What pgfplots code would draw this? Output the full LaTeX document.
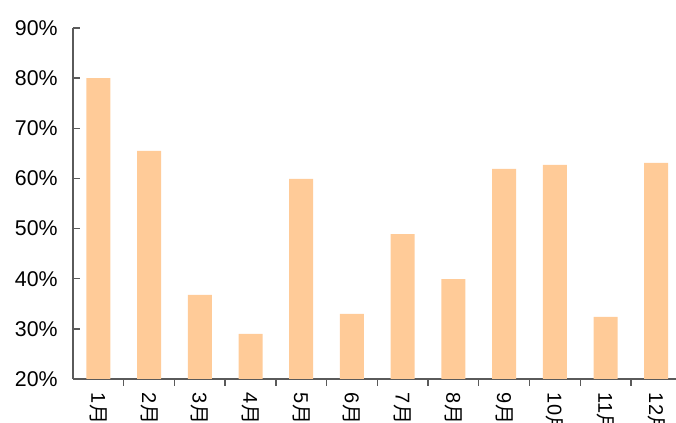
\documentclass[border=0pt]{standalone}
\usepackage{pgfplots}
\pgfplotsset{compat=1.18}
\usepackage{fontspec}
\setmainfont{Liberation Sans}
\newfontfamily\cjk{Noto Sans CJK SC}
\definecolor{barc}{HTML}{FFCB98}
\definecolor{axc}{HTML}{5A5A5A}
\begin{document}
\begin{tikzpicture}[x=0.75pt,y=0.75pt]
\begin{axis}[
  at={(0,0)}, anchor=south west,
  scale only axis,
  width=456.45pt, height=263.25pt,
  xmin=0.5, xmax=12.5, ymin=20, ymax=90,
  axis x line*=bottom, axis y line*=left,
  axis line style={axc, line width=1pt},
  tick style={axc, line width=1pt},
  major tick length=5.25pt,
  ytick={20,30,...,90},
  yticklabels={20\%,30\%,40\%,50\%,60\%,70\%,80\%,90\%},
  yticklabel style={font=\fontsize{16}{18}\selectfont, anchor=east, xshift=-8pt},
  xtick={1,...,12},
  x tick style={draw=none},
  xticklabels={1{\cjk 月},2{\cjk 月},3{\cjk 月},4{\cjk 月},5{\cjk 月},6{\cjk 月},7{\cjk 月},8{\cjk 月},9{\cjk 月},10{\cjk 月},11{\cjk 月},12{\cjk 月}},
  xticklabel style={font=\fontsize{15}{17}\selectfont, yshift=-5pt, rotate=-90, anchor=west, inner sep=0pt},
  extra x ticks={1.5,2.5,...,11.5},
  extra x tick labels={},
  extra x tick style={x tick style={draw=axc}, major tick length=5.25pt},
  ybar, bar width=18pt, bar shift=0pt,
  clip=true,
]
\addplot[fill=barc, draw=none] coordinates {
 (1,80.0) (2,65.5) (3,36.8) (4,29.0) (5,59.9) (6,33.0)
 (7,48.9) (8,39.9) (9,61.9) (10,62.7) (11,32.4) (12,63.1)
};
\end{axis}
\pgfresetboundingbox
\path[use as bounding box] (-73,-44) rectangle (603,379);
\end{tikzpicture}
\end{document}
